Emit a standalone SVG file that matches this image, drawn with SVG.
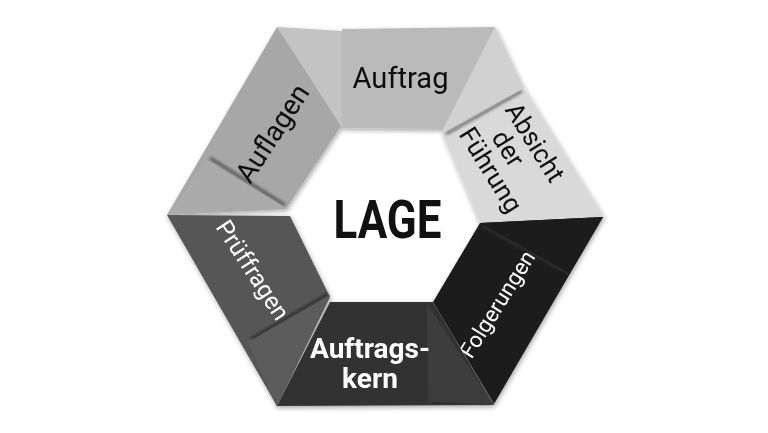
<svg xmlns="http://www.w3.org/2000/svg" width="768" height="433" viewBox="0 0 768 433">
  <defs>
    <filter id="ring" x="-10%" y="-10%" width="120%" height="120%">
      <feDropShadow dx="1" dy="2" stdDeviation="2.5" flood-color="#000" flood-opacity="0.35"/>
    </filter>
    <filter id="soft" x="-20%" y="-20%" width="140%" height="140%">
      <feGaussianBlur stdDeviation="1.6"/>
    </filter>
    <style>
      .t { font-family: Roboto, "Liberation Sans", Arial, sans-serif; }
      .blk { fill: #111; }
      .wht { fill: #fff; }
      .fold { stroke: #000; stroke-width: 3; stroke-opacity: 0.5; fill: none; filter: url(#soft); }
    </style>
  </defs>
  <rect width="768" height="433" fill="#fff"/>
  <g id="ring" filter="url(#ring)">
    <g id="auftrag">
      <polygon points="342,29 495,27 443,129 342,128" fill="#bababa"/>
      <line class="fold" x1="344" y1="32" x2="344" y2="126"/>
      <polygon points="277,27 342,31 342,127" fill="#c3c3c3"/>
      <text class="t blk" x="400.5" y="88" font-size="30" text-anchor="middle" textLength="96" lengthAdjust="spacingAndGlyphs">Auftrag</text>
    </g>
    <g id="absicht">
      <polygon points="442,132 524,88 604,217 480,223" fill="#d9d9d9"/>
      <line class="fold" x1="522" y1="91" x2="446" y2="134"/>
      <polygon points="495,27 524,88 442,133" fill="#d1d1d1"/>
      <g transform="translate(513,156) rotate(58)">
        <text class="t blk" x="0" y="-17" font-size="26" text-anchor="middle">Absicht</text>
        <text class="t blk" x="-9" y="9" font-size="26" text-anchor="middle">der</text>
        <text class="t blk" x="0" y="35" font-size="26" text-anchor="middle">Führung</text>
      </g>
    </g>
    <g id="folgerungen">
      <polygon points="480,223 603,217 494,404 433,302" fill="#1f1f1f"/>
      <line x1="483" y1="226" x2="568" y2="273" stroke="#383838" stroke-width="1.5" filter="url(#soft)"/>
      <polygon points="480,223 603,217 570,273" fill="#1b1b1b"/>
      <text class="t wht" transform="translate(497,304) rotate(-58)" x="0" y="8" font-size="22" text-anchor="middle">Folgerungen</text>
    </g>
    <g id="auftragskern">
      <polygon points="330,302 433,302 494,405 277,406" fill="#333333"/>
      <line class="fold" x1="425" y1="307" x2="425" y2="399"/>
      <polygon points="427,304 494,405 428,401" fill="#3d3d3d"/>
      <text class="t wht" x="370" y="358" font-size="28" font-weight="bold" text-anchor="middle">Auftrags-</text>
      <text class="t wht" x="370" y="388" font-size="28" font-weight="bold" text-anchor="middle">kern</text>
    </g>
    <g id="pruffragen">
      <polygon points="167,215 290,216 330,297 277,406" fill="#575757"/>
      <line class="fold" x1="251" y1="339" x2="328" y2="294"/>
      <polygon points="248,342 330,295 277,407" fill="#5c5c5c"/>
      <text class="t wht" transform="translate(253,270) rotate(57)" x="0" y="8.5" font-size="24" text-anchor="middle">Prüffragen</text>
    </g>
    <g id="auflagen">
      <polygon points="277,27 341,126 286,209 167,215" fill="#a7a7a7"/>
      <line class="fold" x1="210" y1="158" x2="285" y2="205"/>
      <polygon points="207,160 286,208 167,215" fill="#ababab"/>
      <text class="t blk" transform="translate(272,133) rotate(-57)" x="0" y="10" font-size="28" text-anchor="middle">Auflagen</text>
    </g>
  </g>
  <g id="lage">
    <text class="t blk" x="387.5" y="238" font-size="54" font-weight="bold" text-anchor="middle" textLength="108" lengthAdjust="spacingAndGlyphs">LAGE</text>
  </g>
  <g id="connectors"/>
</svg>
